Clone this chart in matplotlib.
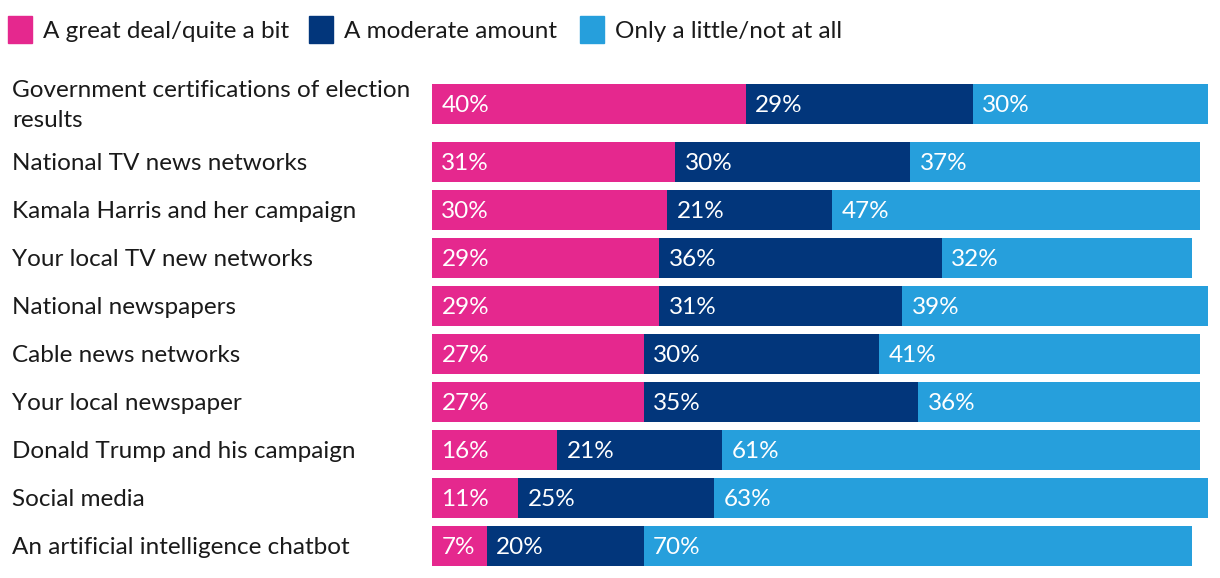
import numpy as np
import matplotlib.pyplot as plt
from matplotlib.patches import Rectangle
from matplotlib.transforms import blended_transform_factory

# data
categories = [
    "Government certifications of election\nresults",
    "National TV news networks",
    "Kamala Harris and her campaign",
    "Your local TV new networks",
    "National newspapers",
    "Cable news networks",
    "Your local newspaper",
    "Donald Trump and his campaign",
    "Social media",
    "An artificial intelligence chatbot",
]
great_deal = [40, 31, 30, 29, 29, 27, 27, 16, 11, 7]
moderate = [29, 30, 21, 36, 31, 30, 35, 21, 25, 20]
little = [30, 37, 47, 32, 39, 41, 36, 61, 63, 70]
series_names = ["A great deal/quite a bit", "A moderate amount", "Only a little/not at all"]
colors = ["#E5288E", "#02367B", "#269FDC"]

plt.rcParams['font.family'] = ['Lato', 'DejaVu Sans']
W, H = 1220, 578
fs = 17.5
fig = plt.figure(figsize=(W / 100, H / 100), dpi=100)

# axes in pixel space: x from 432px, 7.84px per percent
x0 = 432
ppp = 7.84
ax = fig.add_axes([x0 / W, 0, (W - x0) / W, 1])
ax.set_xlim(0, (W - x0) / ppp)
ax.set_ylim(H / 48, 0)  # y units = rows of 48px
ax.axis('off')

# row centres, first row gets extra room for its two-line label
ypos = np.array([104 / 48] + list(162 / 48 + np.arange(len(categories) - 1)))
bar_h = 40 / 48

left = np.zeros(len(categories))
for vals, col in zip([great_deal, moderate, little], colors):
    vals = np.array(vals)
    ax.barh(ypos, vals, left=left, height=bar_h, color=col, linewidth=0)
    for y, l, v in zip(ypos, left, vals):
        ax.text(l + 1.2, y + 0.03, f"{v}%", color="white", fontsize=fs,
                va="center", ha="left")
    left = left + vals

# category labels
trans = blended_transform_factory(fig.transFigure, ax.transData)
for y, cat in zip(ypos, categories):
    fig.text(12 / W, y + 0.03, cat, transform=trans, fontsize=fs, color="#1a1a1a",
             va="center", ha="left", linespacing=1.55)

# legend
leg_x = [8, 309, 580]
for lx, name, col in zip(leg_x, series_names, colors):
    fig.patches.append(Rectangle((lx / W, 1 - 43 / H), 24 / W, 27 / H,
                                 transform=fig.transFigure, color=col))
    fig.text((lx + 35) / W, 1 - 31 / H, name, fontsize=fs, color="#1a1a1a",
             va="center", ha="left")

fig.savefig("out.png", dpi=100)
